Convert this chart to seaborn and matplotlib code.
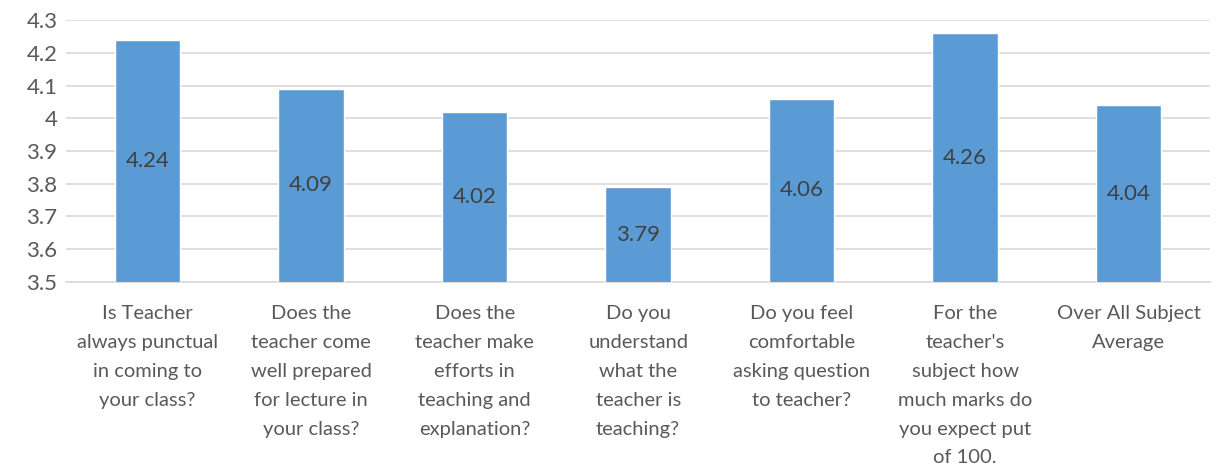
import matplotlib
matplotlib.use("Agg")
import matplotlib.pyplot as plt
import seaborn as sns
import pandas as pd

questions = [
    "Is Teacher\nalways punctual\nin coming to\nyour class?",
    "Does the\nteacher come\nwell prepared\nfor lecture in\nyour class?",
    "Does the\nteacher make\nefforts in\nteaching and\nexplanation?",
    "Do you\nunderstand\nwhat the\nteacher is\nteaching?",
    "Do you feel\ncomfortable\nasking question\nto teacher?",
    "For the\nteacher's\nsubject how\nmuch marks do\nyou expect put\nof 100.",
    "Over All Subject\nAverage",
]
scores = [4.24, 4.09, 4.02, 3.79, 4.06, 4.26, 4.04]
y_ticks = [3.5, 3.6, 3.7, 3.8, 3.9, 4.0, 4.1, 4.2, 4.3]
y_tick_labels = ["3.5", "3.6", "3.7", "3.8", "3.9", "4", "4.1", "4.2", "4.3"]

sns.set_theme(style="white")
plt.rcParams["font.family"] = ["Lato", "DejaVu Sans"]

df = pd.DataFrame({"question": questions, "score": scores})

fig = plt.figure(figsize=(12.19, 4.71), dpi=100)
ax = fig.add_axes([0.054, 0.4013, 0.939, 0.5562])

base = 3.5
sns.barplot(data=df, x="question", y="score", color="#5B9BD5", saturation=1,
            width=0.40, ax=ax, zorder=3)

ax.set_ylim(3.5, 4.3)
ax.set_yticks(y_ticks)
ax.set_yticklabels(y_tick_labels, fontsize=16, color="#595959")
ax.set_xlabel("")
ax.set_ylabel("")
ax.set_xlim(-0.5, len(questions) - 0.5)

for lab in ax.get_xticklabels():
    lab.set_fontsize(14.5)
    lab.set_color("#595959")
    lab.set_linespacing(1.85)
    lab.set_verticalalignment("top")

ax.tick_params(axis="both", length=0)
ax.tick_params(axis="x", pad=16.5)
ax.tick_params(axis="y", pad=6)

ax.yaxis.grid(True, color="#D9D9D9", linewidth=1.2, zorder=0)
ax.set_axisbelow(True)
for s in ["top", "right", "left"]:
    ax.spines[s].set_visible(False)
ax.spines["bottom"].set_color("#D9D9D9")
ax.spines["bottom"].set_linewidth(1.2)

for i, v in enumerate(scores):
    ax.text(i, (base + v) / 2, f"{v:.2f}", ha="center", va="center",
            fontsize=16, color="#404040", zorder=4)

fig.savefig("out.png", dpi=100, facecolor="white")
